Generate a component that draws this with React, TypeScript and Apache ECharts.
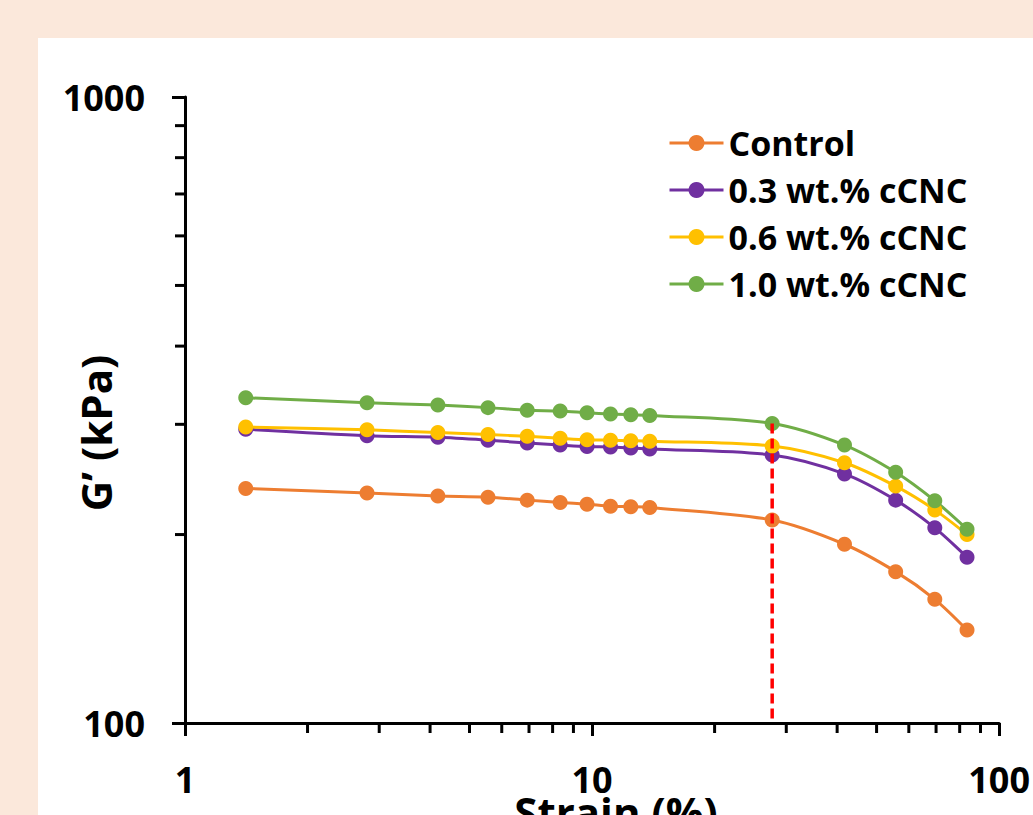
import React, { useEffect, useRef } from "react";
import * as echarts from "echarts";

const strain = [1.41, 2.8, 4.18, 5.55, 6.93, 8.35, 9.72, 11.1, 12.45, 13.86, 27.7, 41.7, 55.7, 69.5, 83.4];
const control = [237, 233, 230.5, 229.5, 227, 225, 223.6, 222, 221.6, 221, 211, 193, 174.5, 157.6, 140.8];
const cnc03 = [294.6, 287.7, 286, 283, 280, 278, 276.5, 276, 275, 274, 268, 250, 227, 205, 184];
const cnc06 = [297, 294, 291, 289, 287, 285, 283.5, 283, 282.5, 282, 277, 260.5, 239, 219, 200];
const cnc10 = [330.8, 324.8, 322, 319, 316, 315, 313, 311.5, 310.7, 310, 301, 278, 251.5, 226.5, 204];

const seriesNames = ["Control", "0.3 wt.% cCNC", "0.6 wt.% cCNC", "1.0 wt.% cCNC"];
const seriesColors = ["#ED7D31", "#7030A0", "#FFC000", "#70AD47"];

const yieldStrain = 27.7;
const yieldLine = [301, 100];

const xMinorTicks = [2, 3, 4, 5, 6, 7, 8, 9, 20, 30, 40, 50, 60, 70, 80, 90];
const yMinorTicks = [200, 300, 400, 500, 600, 700, 800, 900];

const FONT = "'Open Sans', 'Noto Sans', sans-serif";

export default function App() {
  const ref = useRef<HTMLDivElement>(null);
  useEffect(() => {
    document.body.style.margin = "0";
    const chart = echarts.init(ref.current!, null, { renderer: "svg" });
    const all = [control, cnc03, cnc06, cnc10];
    const lineSeries = all.map((vals, i) => ({
      name: seriesNames[i],
      type: "line",
      data: strain.map((s, j) => [s, vals[j]]),
      smooth: 0.3,
      symbol: "circle",
      symbolSize: 15,
      itemStyle: { color: seriesColors[i] },
      lineStyle: { color: seriesColors[i], width: 3 },
      z: 3,
    }));
    chart.setOption({
      animation: false,
      backgroundColor: "#FBE8DB",
      graphic: [
        {
          type: "rect",
          z: -100,
          silent: true,
          shape: { x: 38, y: 38, width: 1000, height: 800 },
          style: { fill: "#FFFFFF" },
        },
        {
          type: "text",
          x: 95,
          y: 433,
          rotation: Math.PI / 2,
          style: {
            text: "G’ (kPa)",
            fontFamily: FONT,
            fontWeight: "bold",
            fontSize: 42,
            fill: "#000",
            align: "center",
            verticalAlign: "middle",
          },
        },
        {
          type: "text",
          x: 616,
          y: 811,
          style: {
            text: "Strain (%)",
            fontFamily: FONT,
            fontWeight: "bold",
            fontSize: 42,
            fill: "#000",
            align: "center",
            verticalAlign: "middle",
          },
        },
      ],
      legend: {
        data: seriesNames,
        orient: "vertical",
        left: 668,
        top: 125,
        padding: 0,
        itemWidth: 54,
        itemHeight: 20,
        itemGap: 11,
        selectedMode: false,
        lineStyle: { width: 3 },
        textStyle: {
          fontFamily: FONT,
          fontWeight: "bold",
          fontSize: 34,
          lineHeight: 36,
          color: "#000",
        },
      },
      grid: { left: 185, top: 97, right: 30, bottom: 92 },
      xAxis: {
        type: "log",
        logBase: 10,
        min: 1,
        max: 100,
        axisLine: { show: true, lineStyle: { color: "#000", width: 3 } },
        axisTick: { show: true, length: 13, lineStyle: { color: "#000", width: 3 } },
        splitLine: { show: false },
        axisLabel: {
          margin: 38,
          fontFamily: FONT,
          fontWeight: "bold",
          fontSize: 36,
          color: "#000",
          formatter: (v: number) => String(v),
        },
      },
      yAxis: {
        type: "log",
        logBase: 10,
        min: 100,
        max: 1000,
        axisLine: { show: true, lineStyle: { color: "#000", width: 3 } },
        axisTick: { show: true, length: 13, lineStyle: { color: "#000", width: 3 } },
        splitLine: { show: false },
        axisLabel: {
          margin: 40,
          fontFamily: FONT,
          fontWeight: "bold",
          fontSize: 36,
          color: "#000",
          formatter: (v: number) => String(v),
        },
      },
      series: [
        {
          type: "custom",
          name: "xMinor",
          silent: true,
          clip: false,
          data: xMinorTicks.map((v) => [v, 100]),
          renderItem: (params: any, api: any) => {
            const p = api.coord([api.value(0), api.value(1)]);
            return {
              type: "line",
              shape: { x1: p[0], y1: p[1], x2: p[0], y2: p[1] + 10 },
              style: { stroke: "#000", lineWidth: 3 },
            };
          },
        },
        {
          type: "custom",
          name: "yMinor",
          silent: true,
          clip: false,
          data: yMinorTicks.map((v) => [1, v]),
          renderItem: (params: any, api: any) => {
            const p = api.coord([api.value(0), api.value(1)]);
            return {
              type: "line",
              shape: { x1: p[0] - 10, y1: p[1], x2: p[0], y2: p[1] },
              style: { stroke: "#000", lineWidth: 3 },
            };
          },
        },
        ...lineSeries,
        {
          type: "line",
          name: "yield",
          data: yieldLine.map((v) => [yieldStrain, v]),
          symbol: "none",
          silent: true,
          lineStyle: { color: "#FF0000", width: 3.5, type: [10, 5] },
          z: 5,
        },
      ],
    });
    return () => chart.dispose();
  }, []);
  return (
    <div
      ref={ref}
      style={{ position: "fixed", left: 0, top: 0, width: 1033, height: 815 }}
    />
  );
}
